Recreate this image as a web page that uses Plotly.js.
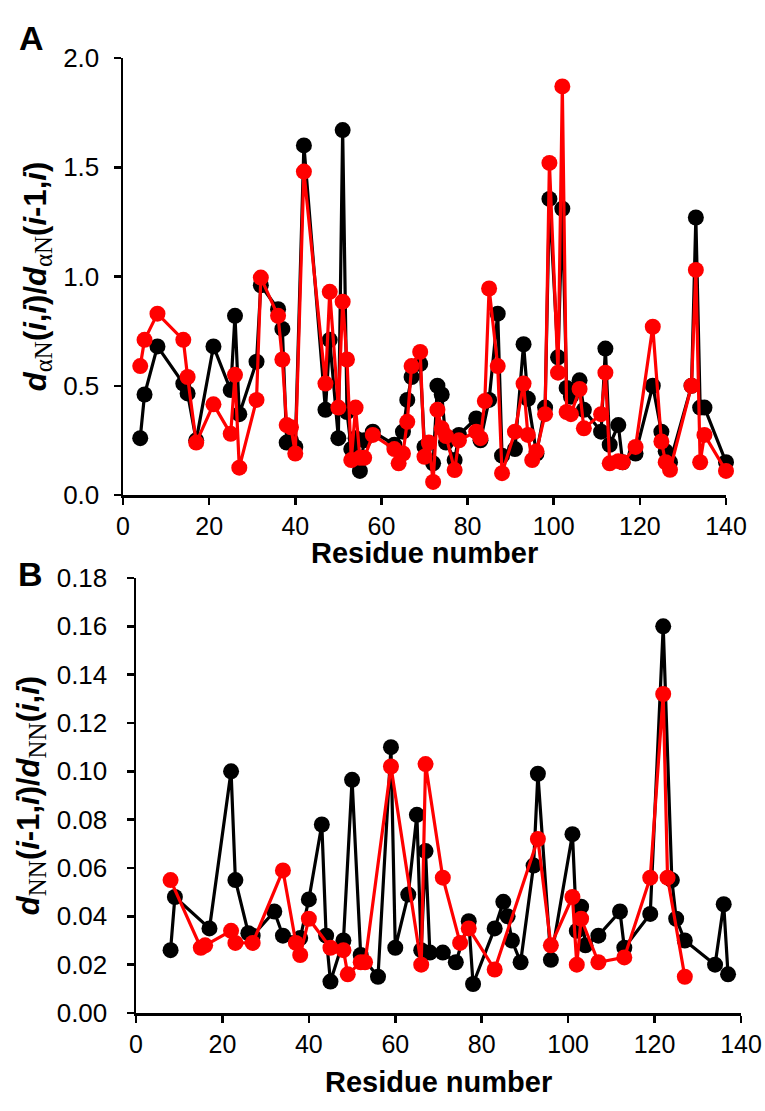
<!DOCTYPE html>
<html>
<head>
<meta charset="utf-8">
<script src="https://cdn.plot.ly/plotly-3.0.1.min.js"></script>
<style>html,body{margin:0;padding:0;background:#fff;}#chart{width:765px;height:1111px;}</style>
</head>
<body>
<div id="chart"></div>
<script>
// Panel A: d_aN(i,i)/d_aN(i-1,i)
const resA_black = [4,5,8,14,15,17,21,25,26,27,31,32,36,37,38,39,40,42,47,48,50,51,52,53,54,55,56,58,63,65,66,67,69,70,72,73,74,75,77,78,82,83,85,87,88,91,93,94,96,98,99,101,102,103,104,106,107,111,112,113,115,116,119,123,125,126,127,132,133,134,135,140];
const valA_black = [0.26,0.46,0.68,0.51,0.465,0.25,0.68,0.48,0.82,0.37,0.61,0.96,0.85,0.76,0.24,0.25,0.22,1.60,0.39,0.71,0.26,1.67,0.38,0.21,0.26,0.11,0.25,0.29,0.23,0.29,0.435,0.54,0.60,0.22,0.145,0.50,0.46,0.24,0.16,0.275,0.35,0.25,0.435,0.83,0.18,0.21,0.69,0.44,0.19,0.40,1.355,0.63,1.31,0.49,0.45,0.525,0.39,0.29,0.67,0.23,0.32,0.15,0.19,0.50,0.29,0.20,0.15,0.50,1.27,0.40,0.40,0.15];
const resA_red = [4,5,8,14,15,17,21,25,26,27,31,32,36,37,38,39,40,42,47,48,50,51,52,53,54,55,56,58,63,64,65,66,67,69,70,71,72,73,74,75,77,78,82,83,84,85,87,88,91,93,94,95,96,98,99,101,102,103,104,106,107,111,112,113,115,116,119,123,125,126,127,132,133,134,135,140];
const valA_red = [0.59,0.71,0.83,0.71,0.54,0.24,0.415,0.28,0.55,0.125,0.435,0.995,0.82,0.62,0.32,0.31,0.19,1.48,0.51,0.93,0.40,0.885,0.62,0.16,0.40,0.17,0.17,0.275,0.21,0.145,0.19,0.335,0.59,0.655,0.175,0.24,0.06,0.39,0.305,0.27,0.114,0.25,0.29,0.26,0.43,0.945,0.59,0.10,0.29,0.51,0.275,0.16,0.20,0.37,1.52,0.56,1.87,0.38,0.37,0.485,0.305,0.37,0.56,0.145,0.155,0.15,0.22,0.77,0.245,0.15,0.115,0.50,1.03,0.15,0.275,0.11];

// Panel B: d_NN(i-1,i)/d_NN(i,i)
const resB_black = [8,9,17,22,23,26,27,32,34,38,40,43,44,45,48,50,52,56,59,60,63,65,66,67,68,71,74,77,78,83,85,86,87,89,92,93,96,101,102,103,104,107,112,113,119,122,124,125,127,134,136,137];
const valB_black = [0.026,0.048,0.035,0.100,0.055,0.033,0.032,0.042,0.032,0.031,0.047,0.078,0.032,0.013,0.030,0.0965,0.024,0.015,0.110,0.027,0.049,0.082,0.026,0.067,0.025,0.025,0.021,0.038,0.012,0.035,0.046,0.040,0.030,0.021,0.061,0.099,0.022,0.074,0.034,0.044,0.028,0.032,0.042,0.027,0.041,0.160,0.055,0.039,0.030,0.020,0.045,0.016];
const resB_red = [8,15,16,22,23,27,34,37,38,40,45,48,49,52,53,59,66,67,71,75,77,83,93,96,101,102,103,107,113,119,122,123,127];
const valB_red = [0.055,0.027,0.028,0.034,0.029,0.029,0.059,0.029,0.024,0.039,0.027,0.026,0.016,0.021,0.021,0.102,0.020,0.103,0.056,0.029,0.035,0.018,0.072,0.028,0.048,0.020,0.039,0.021,0.023,0.056,0.132,0.056,0.015];

const xTicks = [0,20,40,60,80,100,120,140];
const yTicksA = [0,0.5,1.0,1.5,2.0];
const yTicksB = [0,0.02,0.04,0.06,0.08,0.10,0.12,0.14,0.16,0.18];
const xTitle = 'Residue number';

const W = 765, H = 1111;
const SANS = "'Liberation Sans', Arial, sans-serif";
const SERIF = "Liberation Serif, Times New Roman, serif";

function series(x, y, color, xa, ya) {
  return {
    type: 'scatter', mode: 'lines+markers', x: x, y: y, xaxis: xa, yaxis: ya,
    line: {color: color, width: 3.2},
    marker: {color: color, size: 16, line: {width: 0}},
    cliponaxis: false, hoverinfo: 'skip'
  };
}

const data = [
  series(resA_black, valA_black, '#000000', 'x', 'y'),
  series(resA_red, valA_red, '#ff0000', 'x', 'y'),
  series(resB_black, valB_black, '#000000', 'x2', 'y2'),
  series(resB_red, valB_red, '#ff0000', 'x2', 'y2')
];

const sub = s => "<sub><span style=\"font-family:" + SERIF + ";font-weight:normal;font-size:25px\">" + s + "</span></sub>";
const titleA = "<i>d</i>" + sub('αN') + "(<i>i</i>,<i>i</i>)/<i>d</i>" + sub('αN') + "(<i>i</i>-1,<i>i</i>)";
const titleB = "<i>d</i>" + sub('NN') + "(<i>i</i>-1,<i>i</i>)/<i>d</i>" + sub('NN') + "(<i>i</i>,<i>i</i>)";

const axCommon = {
  showline: true, linecolor: '#000', linewidth: 2.5, mirror: false,
  ticks: 'outside', ticklen: 7, tickwidth: 2.5, tickcolor: '#000',
  showgrid: false, zeroline: false, fixedrange: true,
  tickfont: {family: SANS, size: 26, color: '#000'}
};
const xTickFont = {family: SANS, size: 25, color: '#000'};
const titleFont = {family: SANS, size: 31, color: '#000', weight: 'bold'};

const layout = {
  width: W, height: H,
  margin: {l: 0, r: 0, t: 0, b: 0},
  paper_bgcolor: '#fff', plot_bgcolor: '#fff',
  showlegend: false,
  font: {family: SANS, color: '#000'},
  xaxis: Object.assign({}, axCommon, {
    domain: [123 / W, 726 / W], range: [0, 140], anchor: 'y',
    tickvals: xTicks, ticktext: xTicks.map(String),
    tickfont: xTickFont, ticklabelstandoff: 0
  }),
  yaxis: Object.assign({}, axCommon, {
    domain: [1 - 495 / H, 1 - 58 / H], range: [0, 2], anchor: 'x',
    tickvals: yTicksA, ticktext: yTicksA.map(v => v.toFixed(1)),
    ticklabelstandoff: 9,
    title: {text: titleA, font: titleFont, standoff: 8}
  }),
  xaxis2: Object.assign({}, axCommon, {
    domain: [136 / W, 741 / W], range: [0, 140], anchor: 'y2',
    tickvals: xTicks, ticktext: xTicks.map(String),
    tickfont: xTickFont, ticklabelstandoff: 0
  }),
  yaxis2: Object.assign({}, axCommon, {
    domain: [1 - 1013 / H, 1 - 578 / H], range: [0, 0.18], anchor: 'x2',
    tickvals: yTicksB, ticktext: yTicksB.map(v => v.toFixed(2)),
    ticklabelstandoff: 14,
    title: {text: titleB, font: titleFont, standoff: 8}
  }),
  annotations: [
    {text: '<b>A</b>', xref: 'paper', yref: 'paper', x: 32 / W, y: 1 - 38 / H, showarrow: false,
     xanchor: 'center', yanchor: 'middle', font: {family: SANS, size: 34, color: '#000'}},
    {text: '<b>B</b>', xref: 'paper', yref: 'paper', x: 30 / W, y: 1 - 574 / H, showarrow: false,
     xanchor: 'center', yanchor: 'middle', font: {family: SANS, size: 34, color: '#000'}},
    {text: '<b>' + xTitle + '</b>', xref: 'x domain', yref: 'paper', x: 0.5, y: 1 - 553 / H, showarrow: false,
     xanchor: 'center', yanchor: 'middle', font: {family: SANS, size: 29, color: '#000'}},
    {text: '<b>' + xTitle + '</b>', xref: 'x2 domain', yref: 'paper', x: 0.5, y: 1 - 1082 / H, showarrow: false,
     xanchor: 'center', yanchor: 'middle', font: {family: SANS, size: 29, color: '#000'}}
  ]
};

Plotly.newPlot('chart', data, layout, {staticPlot: true, displayModeBar: false});
</script>
</body>
</html>
